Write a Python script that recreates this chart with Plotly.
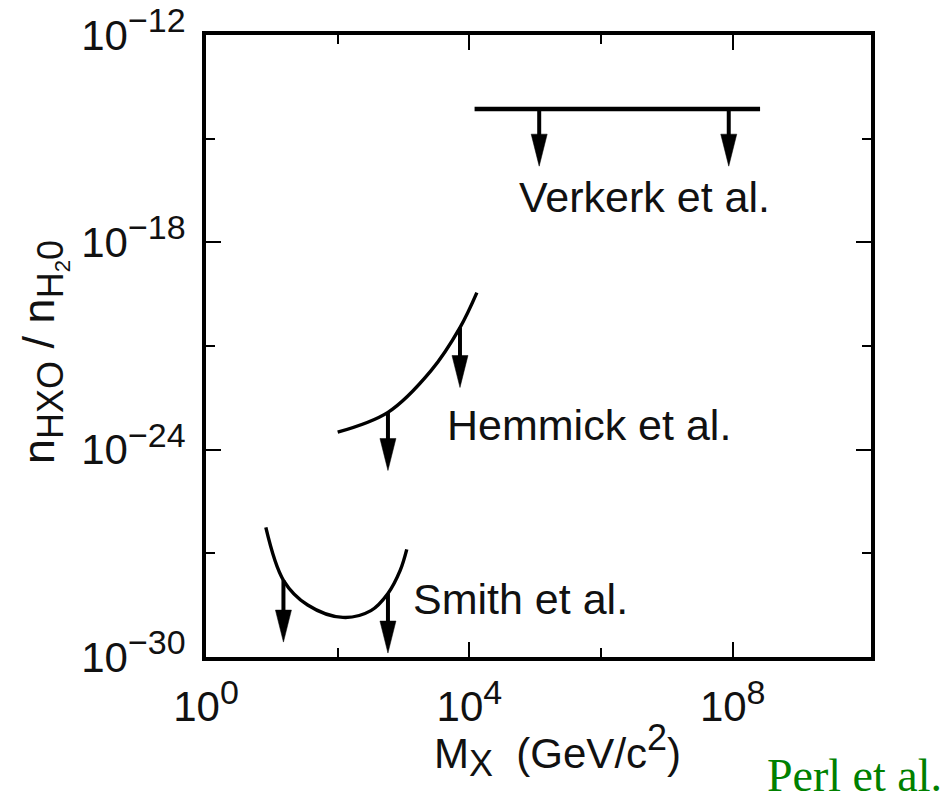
import numpy as np
import plotly.graph_objects as go

# --- data (log-log axes) ---
verkerk_x = [1.2e4, 2.6e8]
verkerk_y = [7.2e-15, 7.2e-15]
verkerk_arrow_x = [1.15e5, 8.7e7]
verkerk_arrow_from = [7.2e-15, 7.2e-15]
verkerk_arrow_tip = [1.6e-16, 1.6e-16]

hemmick_x = [1.0e2, 5.8e2, 2.6e3, 7.2e3, 1.3e4]
hemmick_y = [3.2e-24, 1.2e-23, 1.9e-22, 3.4e-21, 3.5e-20]
hemmick_arrow_x = [5.8e2, 7.2e3]
hemmick_arrow_from = [1.2e-23, 3.4e-21]
hemmick_arrow_tip = [2.5e-25, 6.3e-23]

smith_x = [8.1, 15, 35, 120, 320, 580, 890, 1120]
smith_y = [5.6e-27, 1.66e-28, 3.2e-29, 1.4e-29, 2.2e-29, 6.9e-29, 3.2e-28, 1.3e-27]
smith_arrow_x = [15, 580]
smith_arrow_from = [1.66e-28, 6.9e-29]
smith_arrow_tip = [2.7e-30, 1.3e-30]

x_tickvals = [1, 1e4, 1e8]
x_exponents = ["0", "4", "8"]
x_minorvals = [1e2, 1e6]
y_tickvals = [1e-30, 1e-24, 1e-18, 1e-12]
y_exponents = ["\u221230", "\u221224", "\u221218", "\u221212"]
y_minorvals = [1e-27, 1e-21, 1e-15]

# --- layout geometry (page body adds an 8px margin, so the figure is 8px smaller) ---
W, H = 940, 787
M = dict(l=198, r=77, t=27, b=138)
X_RANGE = [0, 10.1]
Y_RANGE = [-30, -12]
px_dec_x = (W - M["l"] - M["r"]) / (X_RANGE[1] - X_RANGE[0])
px_dec_y = (H - M["t"] - M["b"]) / (Y_RANGE[1] - Y_RANGE[0])
HEAD_LEN = 32
HEAD_HALF = 8
FONT = "Liberation Sans, Arial, sans-serif"


def power(e, size=34):
    return f"10<sup><span style='font-size:{size}px'>{e}</span></sup>"


fig = go.Figure()


def curve(xs, ys, width=3.4, shape="spline"):
    fig.add_trace(go.Scatter(x=xs, y=ys, mode="lines", hoverinfo="skip",
                             line=dict(color="black", width=width, shape=shape)))


def arrows(xs, starts, tips):
    hl = HEAD_LEN / px_dec_y
    hw = HEAD_HALF / px_dec_x
    for x, y0, yt in zip(xs, starts, tips):
        lx, lt = np.log10(x), np.log10(yt)
        base = 10 ** (lt + hl)
        fig.add_trace(go.Scatter(x=[x, x], y=[y0, 10 ** (lt + hl * 0.9)], mode="lines",
                                 hoverinfo="skip", line=dict(color="black", width=4)))
        fig.add_trace(go.Scatter(
            x=[10 ** (lx - hw), 10 ** (lx + hw), x, 10 ** (lx - hw)],
            y=[base, base, yt, base], mode="lines", fill="toself", hoverinfo="skip",
            fillcolor="black", line=dict(color="black", width=0.5)))


curve(verkerk_x, verkerk_y, width=4.4, shape="linear")
arrows(verkerk_arrow_x, verkerk_arrow_from, verkerk_arrow_tip)
curve(hemmick_x, hemmick_y)
arrows(hemmick_arrow_x, hemmick_arrow_from, hemmick_arrow_tip)
curve(smith_x, smith_y)
arrows(smith_arrow_x, smith_arrow_from, smith_arrow_tip)

labels = [("Verkerk et al.", 4.72, -16.68), ("Hemmick et al.", 3.63, -23.3), ("Smith et al.", 3.12, -28.33)]
annotations = [dict(text=t, x=x, y=y, xref="x", yref="y", xanchor="left", yanchor="middle",
                    showarrow=False, font=dict(family=FONT, size=43, color="#111"))
               for t, x, y in labels]
sub = "<span style='font-size:36px'>{}</span>"
annotations += [
    dict(text="M<sub>" + sub.format("X") + "</sub>  (GeV/c<sup>" + sub.format("2") + "</sup>)",
         x=0.528, y=-0.15, xref="paper", yref="paper",
         xanchor="center", yanchor="middle", showarrow=False,
         font=dict(family=FONT, size=42, color="#111")),
    dict(text="n<sub>" + sub.format("HXO") + "</sub> / n<sub>" + sub.format("H")
         + "<sub>2</sub>" + sub.format("0") + "</sub>",
         x=-0.244, y=0.49, xref="paper", yref="paper",
         xanchor="center", yanchor="middle", showarrow=False, textangle=-90,
         font=dict(family=FONT, size=45, color="#111")),
    dict(text="Perl et al.", x=0.84, y=-0.19, xref="paper", yref="paper",
         xanchor="left", yanchor="middle", showarrow=False,
         font=dict(family="Liberation Serif, Times New Roman, serif", size=46, color="#008000")),
]

axis_common = dict(showline=True, linewidth=4, linecolor="black", mirror="allticks",
                   ticks="inside", ticklen=15, tickwidth=1.5, tickcolor="black",
                   showgrid=False, zeroline=False, tickmode="array", ticklabeloverflow="allow",
                   automargin=False, tickfont=dict(family=FONT, size=42, color="#111"))

fig.update_xaxes(type="log", range=X_RANGE, tickvals=x_tickvals,
                 ticktext=[power(e) for e in x_exponents], ticklabelstandoff=10,
                 minor=dict(tickmode="array", tickvals=x_minorvals, ticks="inside", ticklen=9,
                            tickwidth=1.5, tickcolor="black", showgrid=False),
                 **axis_common)
fig.update_yaxes(type="log", range=Y_RANGE, tickvals=y_tickvals,
                 ticktext=[power(e) for e in y_exponents], ticklabelstandoff=8,
                 minor=dict(tickmode="array", tickvals=y_minorvals, ticks="inside", ticklen=9,
                            tickwidth=1.5, tickcolor="black", showgrid=False),
                 **axis_common)

fig.update_layout(width=W, height=H, margin=M, showlegend=False,
                  paper_bgcolor="white", plot_bgcolor="white",
                  annotations=annotations)

fig.write_html("out.html")
